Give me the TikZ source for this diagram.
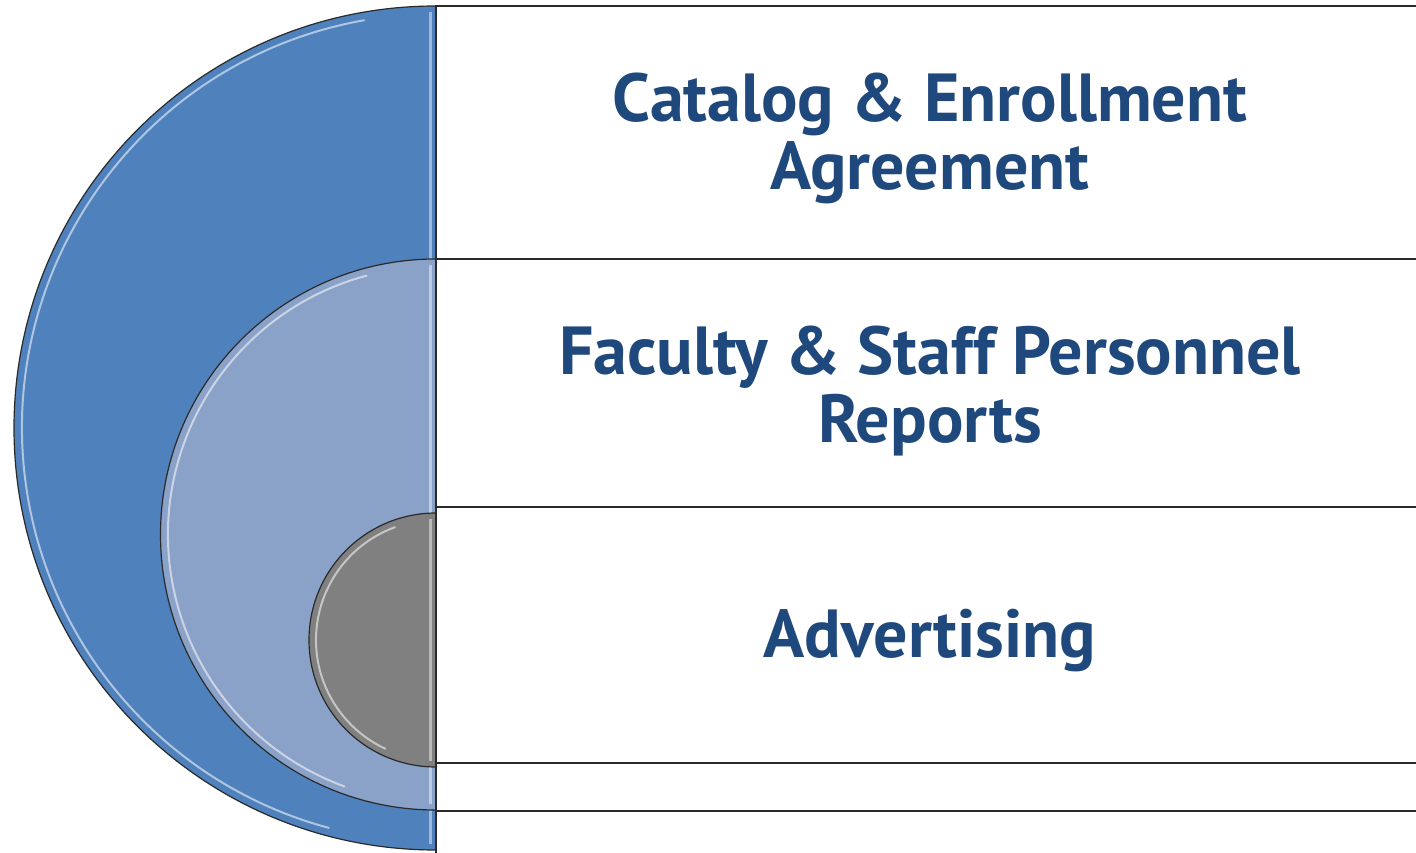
\documentclass[tikz,border=0pt]{standalone}
\usepackage{fontspec}
\setmainfont{PT Sans}
\definecolor{bigblue}{HTML}{4F81BD}
\definecolor{midblue}{HTML}{8AA1C8}
\definecolor{smallgray}{HTML}{808080}
\definecolor{txtblue}{HTML}{1F497D}
\definecolor{edge}{HTML}{2A2A2A}
\begin{document}
\begin{tikzpicture}[x=1pt,y=1pt,
  rowline/.style={draw=edge,line width=1.6pt},
  disc/.style={draw=edge,line width=1.2pt},
  gloss/.style={draw=white,opacity=0.55,line width=2pt,line cap=round},
  strip/.style={draw=white,opacity=0.45,line width=3pt},
  label/.style={text=txtblue,font=\bfseries\fontsize{68}{68}\selectfont,anchor=base,inner sep=0pt}]
\useasboundingbox (0,0) rectangle (1416,852);
\fill[white] (0,0) rectangle (1416,852);
% rows
\draw[rowline] (1420,846) -- (436,846) -- (436,-5);
\draw[rowline] (436,593) -- (1420,593);
\draw[rowline] (436,345) -- (1420,345);
\draw[rowline] (436,89) -- (1420,89);
\draw[rowline] (436,41) -- (1420,41);
% large disc
\fill[bigblue] (436,846) arc[start angle=90,end angle=270,radius=422] -- cycle;
\draw[gloss] (436,424) ++(100:414) arc[start angle=100,end angle=255,radius=414];
\draw[strip] (430,840) -- (430,8);
\draw[disc] (436,846) arc[start angle=90,end angle=270,radius=422];
% medium disc
\fill[midblue] (436,593) arc[start angle=90,end angle=270,radius=275.5] -- cycle;
\draw[gloss] (436,317.5) ++(105:268) arc[start angle=105,end angle=250,radius=268];
\draw[strip] (430,587) -- (430,48);
\draw[disc] (436,593) arc[start angle=90,end angle=270,radius=275.5];
% small disc
\fill[smallgray] (436,339) arc[start angle=90,end angle=270,radius=127] -- cycle;
\draw[gloss] (436,212) ++(110:120) arc[start angle=110,end angle=245,radius=120];
\draw[strip] (430,333) -- (430,91);
\draw[disc] (436,339) arc[start angle=90,end angle=270,radius=127];
\draw[draw=edge,line width=1.6pt] (436,846) -- (436,-5);
% texts
\node[label] (t1a) at (930,730) {Catalog \& Enrollment};
\node[label] (t1b) at (930,662) {Agreement};
\node[label] (t2a) at (930,477) {Faculty \& Staff Personnel};
\node[label] (t2b) at (930,409) {Reports};
\node[label] (t3) at (930,195) {Advertising};
\end{tikzpicture}
\end{document}
